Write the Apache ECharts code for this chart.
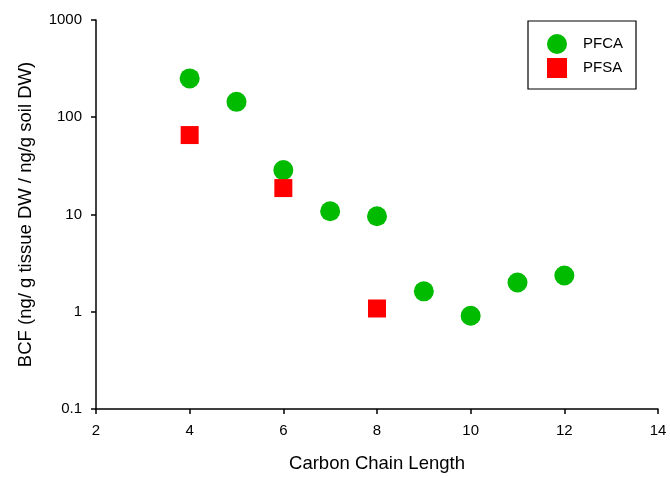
<!DOCTYPE html>
<html>
<head>
<meta charset="utf-8">
<script src="https://cdn.jsdelivr.net/npm/echarts@6/dist/echarts.min.js"></script>
<style>html,body{margin:0;padding:0;background:#fff;overflow:hidden}#c{width:670px;height:478px}</style>
</head>
<body>
<div id="c"></div>
<script>
const pfcaX = [4, 5, 6, 7, 8, 9, 10, 11, 12];
const pfcaY = [251, 144, 28.6, 10.8, 9.6, 1.62, 0.91, 2.0, 2.36];
const pfsaX = [4, 6, 8];
const pfsaY = [65.6, 18.7, 1.08];
const xTicks = [2, 4, 6, 8, 10, 12, 14];
const yTicks = [0.1, 1, 10, 100, 1000];

const font = 'Arial, "Liberation Sans", sans-serif';
const chart = echarts.init(document.getElementById('c'), null, {renderer: 'canvas', width: 670, height: 478});
const axisCommon = {
  axisLine: {show: true, onZero: false, lineStyle: {color: '#000', width: 1.5}},
  axisTick: {show: true, length: 5, lineStyle: {color: '#000', width: 1.5}},
  splitLine: {show: false},
  nameTextStyle: {color: '#000', fontSize: 18.5, fontFamily: font},
  axisLabel: {color: '#000', fontSize: 15, fontFamily: font}
};
chart.setOption({
  animation: false,
  backgroundColor: '#fff',
  grid: {left: 96, top: 20, width: 562, height: 393, containLabel: false},
  legend: {
    orient: 'vertical',
    left: 528, top: 21,
    padding: [13, 13, 11, 19],
    borderColor: '#000', borderWidth: 1.2,
    itemWidth: 20, itemHeight: 20, itemGap: 4,
    textStyle: {color: '#000', fontSize: 15, fontFamily: font, padding: [0, 0, 0, 11]},
    data: [{name: 'PFCA', icon: 'circle'}, {name: 'PFSA', icon: 'rect'}]
  },
  xAxis: Object.assign({}, axisCommon, {
    type: 'value', min: xTicks[0], max: xTicks[xTicks.length - 1], interval: 2,
    name: 'Carbon Chain Length', nameLocation: 'middle', nameGap: 45,
    axisLabel: Object.assign({}, axisCommon.axisLabel, {margin: 14})
  }),
  yAxis: Object.assign({}, axisCommon, {
    type: 'log', logBase: 10, min: yTicks[0], max: yTicks[yTicks.length - 1],
    name: 'BCF (ng/ g tissue DW / ng/g soil DW)', nameLocation: 'middle', nameGap: 61,
    axisLabel: Object.assign({}, axisCommon.axisLabel, {margin: 14,
      formatter: v => { const r = yTicks.find(t => Math.abs(t - v) / t < 1e-6); return r !== undefined ? String(r) : ''; }})
  }),
  series: [
    {name: 'PFCA', type: 'scatter', symbol: 'circle', symbolSize: 20,
     itemStyle: {color: '#00BB00', opacity: 1},
     data: pfcaX.map((x, i) => [x, pfcaY[i]])},
    {name: 'PFSA', type: 'scatter', symbol: 'rect', symbolSize: 18,
     itemStyle: {color: '#FF0000', opacity: 1},
     data: pfsaX.map((x, i) => [x, pfsaY[i]])}
  ]
});
</script>
</body>
</html>
